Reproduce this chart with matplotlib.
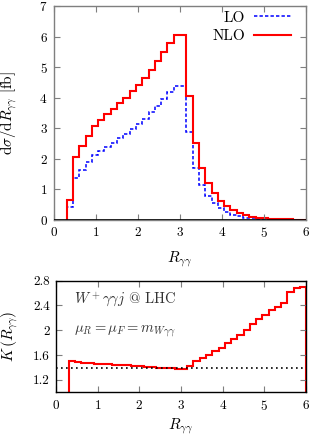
import numpy as np
import matplotlib
matplotlib.use("Agg")
import matplotlib.pyplot as plt
from matplotlib.lines import Line2D

plt.rcParams['font.family'] = ['cmr10', 'DejaVu Serif']
plt.rcParams['mathtext.fontset'] = 'cm'
plt.rcParams['axes.unicode_minus'] = False
plt.rcParams['axes.formatter.use_mathtext'] = True

# bin edges of R_gamma gamma (0.15 wide, from 0.3 to 6.0)
R_edges = np.round(np.arange(0.30, 6.0001, 0.15), 2)

nlo = [0.65, 2.06, 2.43, 2.76, 3.06, 3.28, 3.45, 3.64, 3.81, 3.99,
       4.22, 4.40, 4.66, 4.92, 5.20, 5.49, 5.79, 6.05, 6.05, 4.05,
       2.50, 1.71, 1.21, 0.86, 0.62, 0.45, 0.32, 0.21, 0.14, 0.10,
       0.07, 0.045, 0.03, 0.02, 0.012, 0.008, 0.005, 0.003]
lo = [0.43, 1.38, 1.63, 1.88, 2.11, 2.25, 2.39, 2.53, 2.67, 2.80,
      2.97, 3.13, 3.30, 3.52, 3.73, 3.96, 4.18, 4.38, 4.38, 2.86,
      1.68, 1.13, 0.78, 0.55, 0.37, 0.26, 0.17, 0.11, 0.07, 0.045,
      0.03, 0.018, 0.011, 0.007, 0.004, 0.0025, 0.0015, 0.001]
kfac = [1.50, 1.49, 1.48, 1.47, 1.46, 1.455, 1.45, 1.445, 1.44, 1.435,
        1.43, 1.42, 1.415, 1.41, 1.40, 1.395, 1.385, 1.38, 1.38, 1.43,
        1.50, 1.55, 1.60, 1.66, 1.72, 1.79, 1.86, 1.93, 2.01, 2.10,
        2.18, 2.24, 2.32, 2.37, 2.44, 2.62, 2.69, 2.70]
k_total = 1.40

x_ticks = [0, 1, 2, 3, 4, 5, 6]
y_ticks_top = [0, 1, 2, 3, 4, 5, 6, 7]
y_ticks_bot = [1.2, 1.6, 2.0, 2.4, 2.8]
y_labels_bot = ['1.2', '1.6', '2', '2.4', '2.8']

W, H = 312, 436
fig = plt.figure(figsize=(W / 100, H / 100), dpi=100)

def px_axes(l, r, t, b):
    return fig.add_axes([l / W, 1 - b / H, (r - l) / W, (b - t) / H])

ax1 = px_axes(54, 306, 6.2, 219.7)
ax2 = px_axes(56, 306, 280.7, 392.3)

fs_tick = 9.5
fs_lab = 11
grey = '#7f7f7f'
blue_ls = (0, (2.2, 1.4))

# ---- top panel ----
ax1.stairs(lo, R_edges, baseline=0, color='#0000ff', lw=1.1, linestyle=blue_ls)
ax1.stairs(nlo, R_edges, baseline=0, color='#ff0000', lw=1.5)
ax1.axhline(0, color='black', lw=1.2, zorder=3)
ax1.set_xlim(0, 6)
ax1.set_ylim(0, 7)
ax1.set_xticks(x_ticks)
ax1.set_yticks(y_ticks_top)
for sp in ax1.spines.values():
    sp.set_color(grey)
    sp.set_linewidth(1.0)
ax1.tick_params(direction='in', top=True, right=True, length=4, width=0.8,
                color=grey, labelsize=fs_tick, pad=4.5)
ax1.set_ylabel(r'$\mathrm{d}\sigma/\mathrm{d}R_{\gamma\gamma}$ [fb]', fontsize=fs_lab)
ax1.yaxis.set_label_coords(-0.137, 0.5)
ax1.set_xlabel(r'$R_{\gamma\gamma}$', fontsize=fs_lab)
ax1.xaxis.set_label_coords(0.5, -0.137)

h_lo = Line2D([], [], color='#0000ff', lw=1.1, linestyle=blue_ls)
h_nlo = Line2D([], [], color='#ff0000', lw=1.5)
ax1.legend([h_lo, h_nlo], ['LO', 'NLO'], loc='upper right',
           bbox_to_anchor=(291 / W, 1 - 11 / H), bbox_transform=fig.transFigure,
           frameon=False, markerfirst=False, fontsize=11, handlelength=2.4,
           handletextpad=0.6, labelspacing=0.3, borderpad=0, borderaxespad=0)

# ---- bottom panel ----
ax2.stairs(kfac, R_edges, baseline=0, color='#ff0000', lw=1.5)
ax2.axhline(k_total, color='black', lw=1.2, linestyle=(0, (1, 2)))
ax2.set_xlim(0, 6)
ax2.set_ylim(1.0, 2.8)
ax2.set_xticks(x_ticks)
ax2.set_yticks(y_ticks_bot)
ax2.set_yticklabels(y_labels_bot)
for sp in ax2.spines.values():
    sp.set_color('black')
    sp.set_linewidth(1.0)
ax2.tick_params(direction='in', top=True, right=True, length=4, width=0.8,
                color=grey, labelsize=fs_tick, pad=4.5)
ax2.set_ylabel(r'$K\,(R_{\gamma\gamma})$', fontsize=fs_lab)
ax2.yaxis.set_label_coords(-0.142, 0.5)
ax2.set_xlabel(r'$R_{\gamma\gamma}$', fontsize=fs_lab)
ax2.xaxis.set_label_coords(0.5, -0.215)

ax2.text(74 / W, 1 - 300 / H, r'$W^+\gamma\gamma j$ @ LHC', transform=fig.transFigure,
         fontsize=10.5, va='center', ha='left', color='#333333')
ax2.text(74 / W, 1 - 331 / H, r'$\mu_R=\mu_F=m_{W\gamma\gamma}$', transform=fig.transFigure,
         fontsize=10.5, va='center', ha='left', color='#333333')

fig.savefig('out.png', dpi=100)
